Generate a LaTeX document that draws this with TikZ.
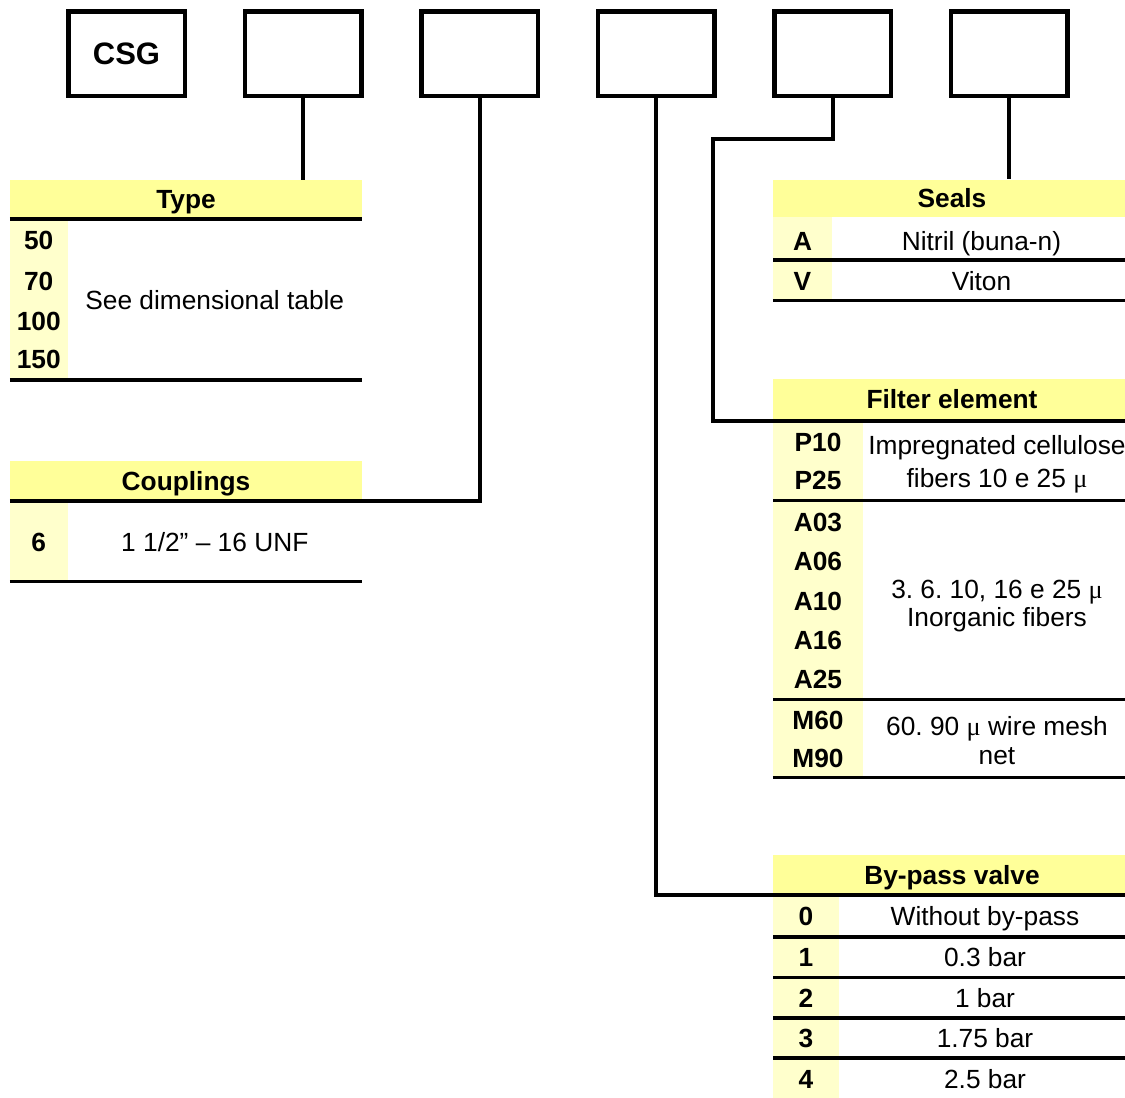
\documentclass[tikz,border=0pt]{standalone}
\usepackage{fontspec}
\setmainfont{Liberation Sans}
\newfontfamily\symfont{Liberation Serif}
\usepackage{tikz}
\usepackage{xcolor}
\usetikzlibrary{positioning}
\definecolor{headfill}{HTML}{FFFF99}
\definecolor{codefill}{HTML}{FFFFCC}
\newcommand{\mic}{{\symfont μ}}
\frenchspacing

\begin{document}
\begin{tikzpicture}[
  x=1pt, y=-1pt,
  font=\fontsize{26.3}{30}\selectfont,
  slot/.style={
    draw=black,
    line width=4.5pt,
    minimum width=116.5pt,
    minimum height=84.5pt,
    inner sep=0pt,
    font=\fontsize{31}{34}\selectfont\bfseries
  },
  header/.style={fill=headfill, inner sep=0pt, text height=18pt, text depth=0pt, font=\fontsize{26.3}{30}\selectfont\bfseries},
  column/.style={fill=codefill, anchor=north west, inner sep=0pt},
  code/.style={anchor=base, inner sep=0pt, font=\fontsize{26.3}{30}\selectfont\bfseries},
  entry/.style={anchor=base, inner sep=0pt},
  rule/.style={line width=3.5pt, draw=black},
  link/.style={line width=4pt, draw=black}
]
  \useasboundingbox (0,0) rectangle (1125,1098);

  \node[slot] (csg) at (126.5,53.5) {CSG};
  \node[slot, right=55.5pt of csg] (typeslot) {};
  \node[slot, right=55.5pt of typeslot] (coupslot) {};
  \node[slot, right=55.5pt of coupslot] (bypassslot) {};
  \node[slot, right=55.5pt of bypassslot] (filterslot) {};
  \node[slot, right=55.5pt of filterslot] (sealslot) {};

  \node[header, minimum width=352pt, minimum height=39pt] (type) at (186,199.5) {Type};
  \node[header, minimum width=352pt, minimum height=40pt] (coup) at (186,481) {Couplings};
  \node[header, minimum width=358pt, minimum height=37.5pt] (seals) at (952,198.25) {Seals};
  \node[header, minimum width=358pt, minimum height=42.2pt] (filter) at (952,399.6) {Filter element};
  \node[header, minimum width=358pt, minimum height=40pt] (bypass) at (952,875) {By-pass valve};

  \node[column, minimum width=57.7pt, minimum height=160.3pt] (typecol) at (type.south west) {};
  \node[column, minimum width=57.7pt, minimum height=80pt] (coupcol) at (coup.south west) {};
  \node[column, minimum width=59pt, minimum height=83pt] (sealcol) at (seals.south west) {};
  \node[column, minimum width=90pt, minimum height=356pt] (filtercol) at (filter.south west) {};
  \node[column, minimum width=66pt, minimum height=205pt] (bypasscol) at (bypass.south west) {};

  \node[code] (type50) at (38.7,249.3) {50};
  \node[code] (type70) at (38.7,290) {70};
  \node[code] (type100) at (38.7,330) {100};
  \node[code] (type150) at (38.7,368.5) {150};
  \node[entry] (typetext) at (214.8,309.5) {See dimensional table};

  \node[code] (coup6) at (38.7,551) {6};
  \node[entry] (couptext) at (214.8,551) {1 1/2” – 16 UNF};

  \node[code] (sealA) at (802.5,250) {A};
  \node[code] (sealV) at (802.5,290.7) {V};
  \node[entry] (sealtextA) at (981.5,250) {Nitril (buna-n)};
  \node[entry] (sealtextV) at (981.5,290.7) {Viton};

  \node[code] (filterP10) at (818,451.5) {P10};
  \node[code] (filterP25) at (818,489) {P25};
  \node[code] (filterA03) at (818,531.7) {A03};
  \node[code] (filterA06) at (818,570.7) {A06};
  \node[code] (filterA10) at (818,610) {A10};
  \node[code] (filterA16) at (818,649.3) {A16};
  \node[code] (filterA25) at (818,688.3) {A25};
  \node[code] (filterM60) at (818,729.5) {M60};
  \node[code] (filterM90) at (818,767.5) {M90};
  \node[entry] (filtertextP1) at (997,454) {Impregnated cellulose};
  \node[entry] (filtertextP2) at (997,487) {fibers 10 e 25 \mic};
  \node[entry] (filtertextA1) at (997,598.3) {3. 6. 10, 16 e 25 \mic};
  \node[entry] (filtertextA2) at (997,626.7) {Inorganic fibers};
  \node[entry] (filtertextM1) at (997,735) {60. 90 \mic{} wire mesh};
  \node[entry] (filtertextM2) at (997,764.3) {net};

  \node[code] (bypass0) at (806,925) {0};
  \node[code] (bypass1) at (806,966) {1};
  \node[code] (bypass2) at (806,1007) {2};
  \node[code] (bypass3) at (806,1047) {3};
  \node[code] (bypass4) at (806,1088.5) {4};
  \node[entry] (bypasstext0) at (985,925) {Without by-pass};
  \node[entry] (bypasstext1) at (985,966) {0.3 bar};
  \node[entry] (bypasstext2) at (985,1007) {1 bar};
  \node[entry] (bypasstext3) at (985,1047) {1.75 bar};
  \node[entry] (bypasstext4) at (985,1088.5) {2.5 bar};

  \draw[rule] (type.south west) -- (type.south east);
  \draw[rule] (typecol.south west) -- (typecol.south west -| type.east);
  \draw[rule] (coup.south west) -- (coup.south east);
  \draw[rule] (coupcol.south west) -- (coupcol.south west -| coup.east);
  \draw[rule] (773,260) -- (1131,260);
  \draw[rule] (sealcol.south west) -- (sealcol.south west -| seals.east);
  \draw[rule] (filter.south west) -- (filter.south east);
  \draw[rule] (773,500.7) -- (1131,500.7);
  \draw[rule] (773,699.3) -- (1131,699.3);
  \draw[rule] (filtercol.south west) -- (filtercol.south west -| filter.east);
  \draw[rule] (bypass.south west) -- (bypass.south east);
  \draw[rule] (773,937) -- (1131,937);
  \draw[rule] (773,977.5) -- (1131,977.5);
  \draw[rule] (773,1018) -- (1131,1018);
  \draw[rule] (773,1058) -- (1131,1058);

  \coordinate (filterbend) at (713,139.3);
  \draw[link] (typeslot.south) -- (typeslot.south |- type.north);
  \draw[link] (coupslot.south) |- (coup.south east);
  \draw[link] (bypassslot.south) |- (bypass.south west);
  \draw[link] (filterslot.south) |- (filterbend) |- (filter.south west);
  \draw[link] (sealslot.south) -- (sealslot.south |- seals.north);
\end{tikzpicture}
\end{document}
